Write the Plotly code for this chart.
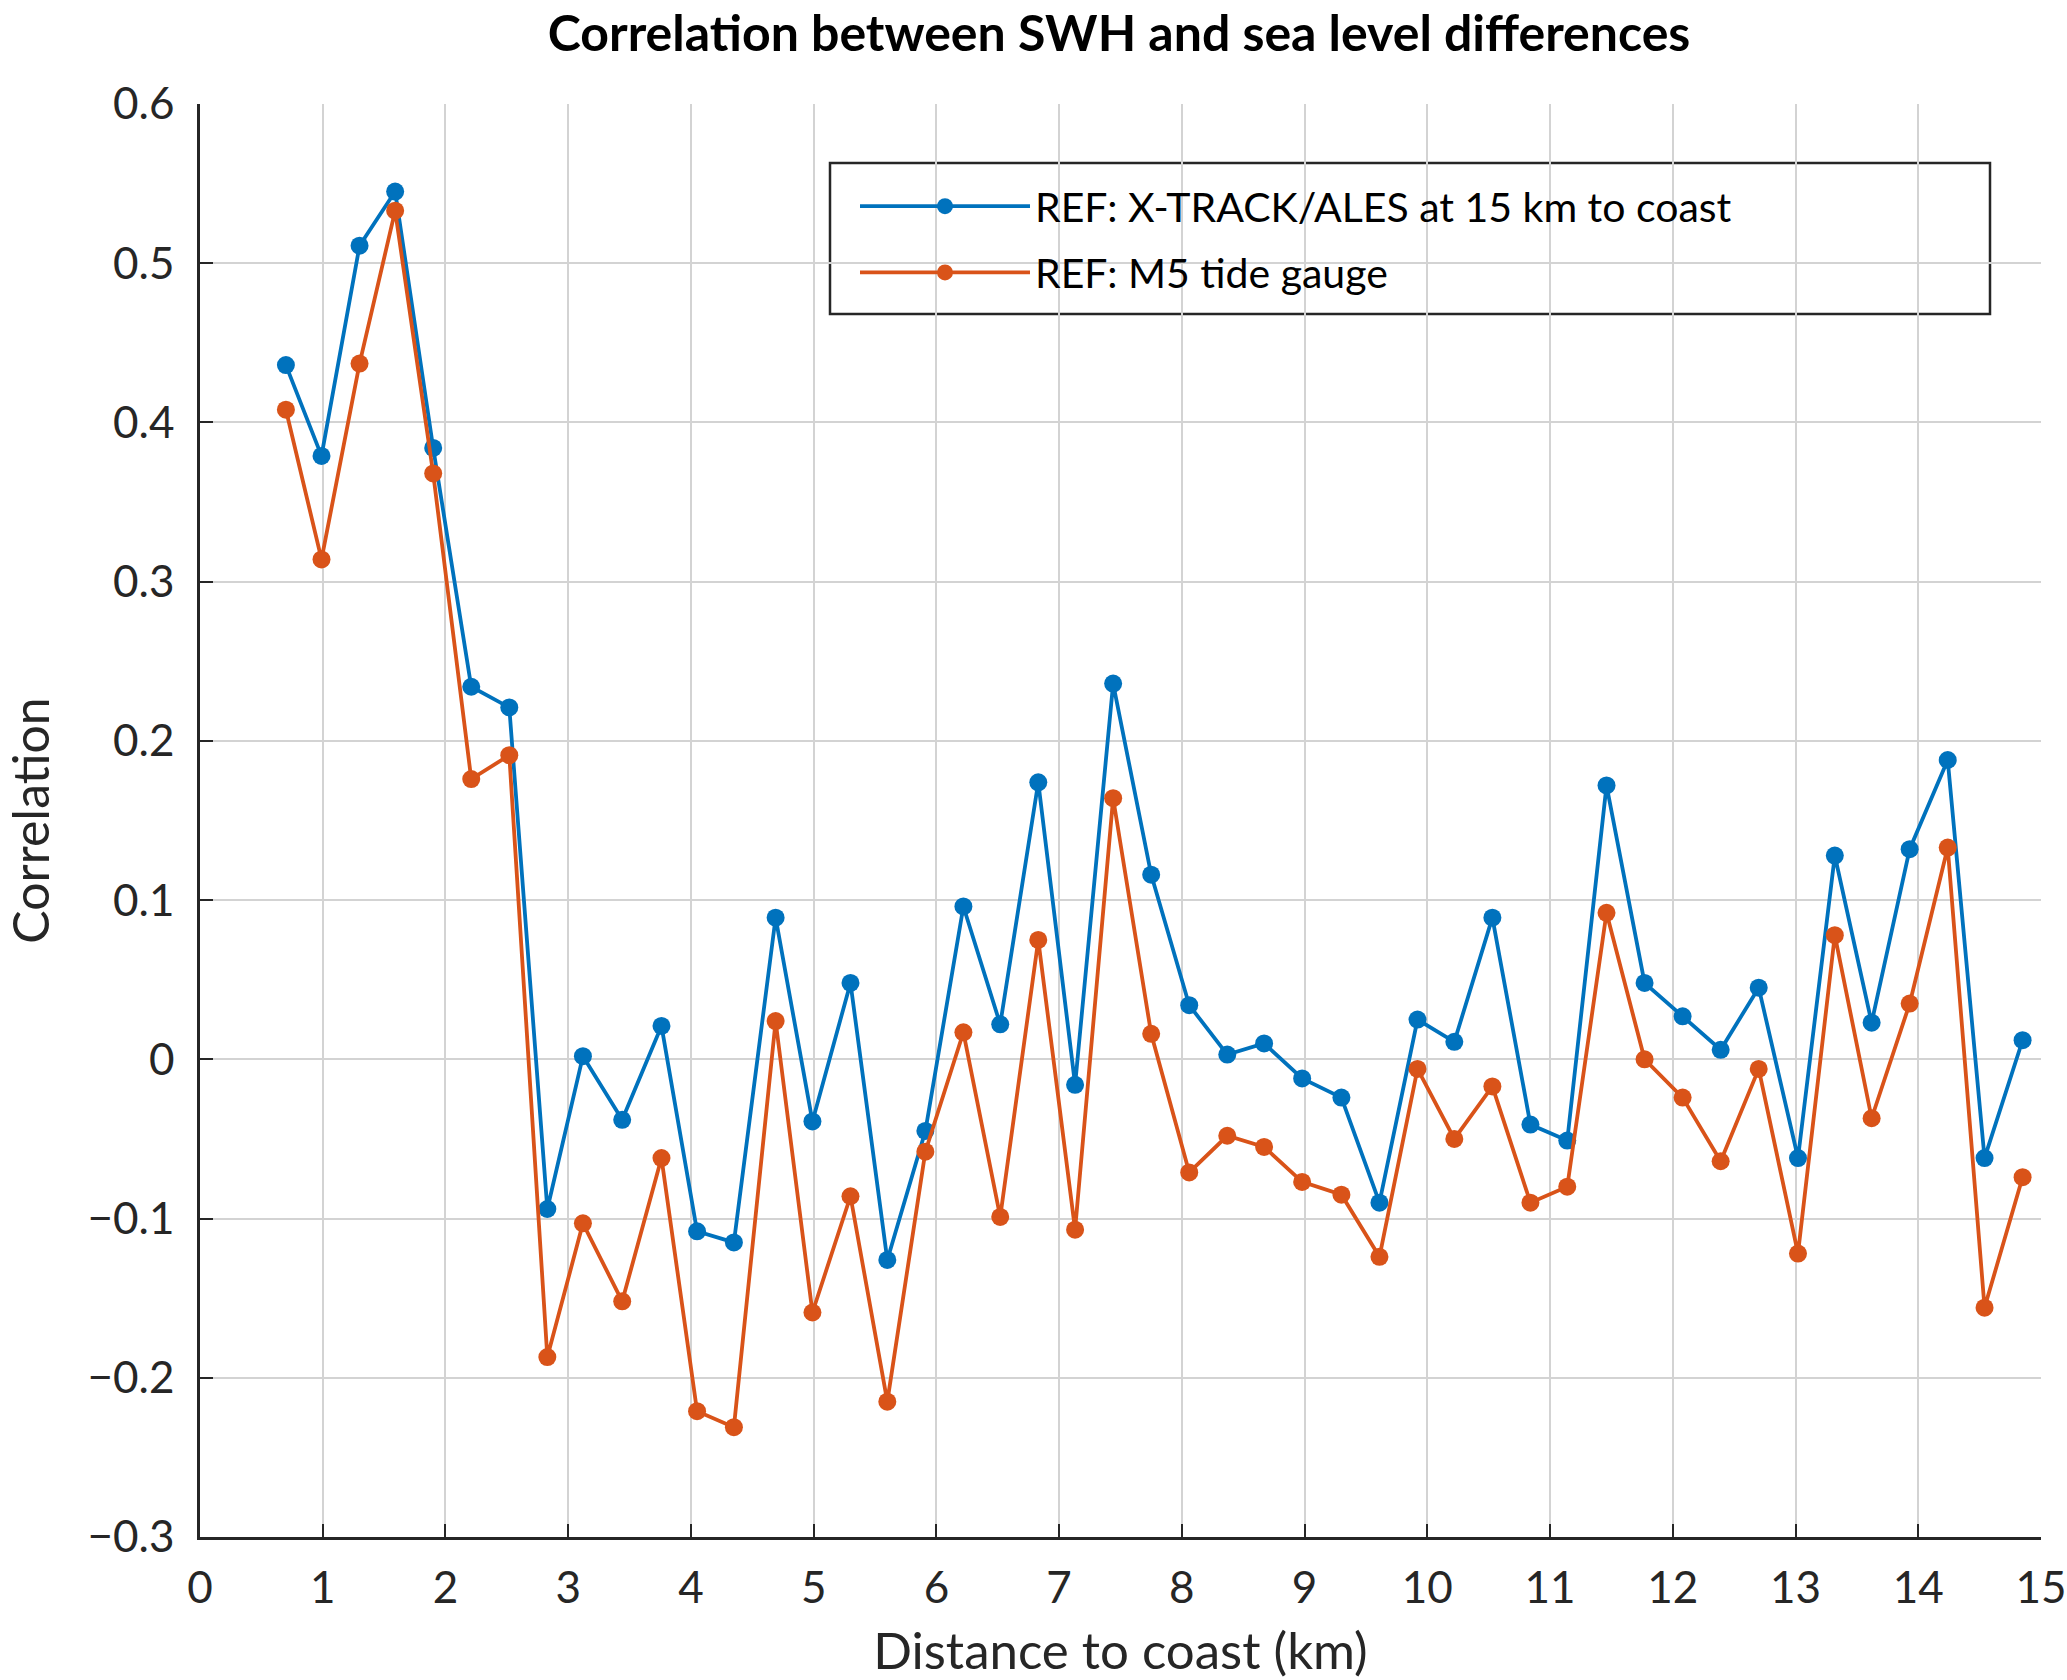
import plotly.graph_objects as go

distance_km = [0.70, 0.99, 1.30, 1.59, 1.90, 2.21, 2.52, 2.83, 3.12, 3.44, 3.76, 4.05, 4.35, 4.69,
               4.99, 5.30, 5.60, 5.91, 6.22, 6.52, 6.83, 7.13, 7.44, 7.75, 8.06, 8.37, 8.67, 8.98,
               9.30, 9.61, 9.92, 10.22, 10.53, 10.84, 11.14, 11.46, 11.77, 12.08, 12.39, 12.70,
               13.02, 13.32, 13.62, 13.93, 14.24, 14.54, 14.85]

corr_xtrack = [0.436, 0.379, 0.511, 0.545, 0.384, 0.234, 0.221, -0.094, 0.002, -0.038, 0.021,
               -0.108, -0.115, 0.089, -0.039, 0.048, -0.126, -0.045, 0.096, 0.022, 0.174, -0.016,
               0.236, 0.116, 0.034, 0.003, 0.010, -0.012, -0.024, -0.090, 0.025, 0.011, 0.089,
               -0.041, -0.051, 0.172, 0.048, 0.027, 0.006, 0.045, -0.062, 0.128, 0.023, 0.132,
               0.188, -0.062, 0.012]

corr_m5 = [0.408, 0.314, 0.437, 0.533, 0.368, 0.176, 0.191, -0.187, -0.103, -0.152, -0.062,
           -0.221, -0.231, 0.024, -0.159, -0.086, -0.215, -0.058, 0.017, -0.099, 0.075, -0.107,
           0.164, 0.016, -0.071, -0.048, -0.055, -0.077, -0.085, -0.124, -0.006, -0.050, -0.017,
           -0.090, -0.080, 0.092, 0.000, -0.024, -0.064, -0.006, -0.122, 0.078, -0.037, 0.035,
           0.133, -0.156, -0.074]

series_names = ["REF: X-TRACK/ALES at 15 km to coast", "REF: M5 tide gauge"]
series_colors = ["#0072BD", "#D95319"]

x_ticks = list(range(0, 16))
y_ticks = [-0.3, -0.2, -0.1, 0, 0.1, 0.2, 0.3, 0.4, 0.5, 0.6]

FONT = "Lato"
W, H = 2067, 1680
ML, MR, MT, MB = 200, 26, 104, 143
PW, PH = W - ML - MR, H - MT - MB

fig = go.Figure()
for name, ys, col in zip(series_names, [corr_xtrack, corr_m5], series_colors):
    fig.add_trace(go.Scatter(
        x=distance_km, y=ys, name=name, mode="lines+markers",
        line=dict(color=col, width=3.8),
        marker=dict(color=col, size=18),
        legendgroup=name,
    ))

axis_common = dict(
    showgrid=True, gridcolor="#d3d3d3", gridwidth=2,
    showline=True, linecolor="#262626", linewidth=2.5,
    ticks="inside", ticklen=13, tickwidth=2, tickcolor="#262626",
    tickfont=dict(family=FONT, size=44, color="#262626"),
    zeroline=False, mirror=False, ticklabeloverflow="allow", automargin=False,
)

fig.update_xaxes(range=[0, 15], tickvals=x_ticks, ticklabelstandoff=10, **axis_common,
                 title=dict(text="Distance to coast (km)",
                            font=dict(family=FONT, size=51, color="#262626"), standoff=35))
fig.update_yaxes(range=[-0.3, 0.6], tickvals=y_ticks, ticklabelstandoff=14, **axis_common,
                 title=dict(text="Correlation",
                            font=dict(family=FONT, size=50, color="#262626"), standoff=46))

# legend frame (pixel positions converted to paper coordinates)
lx0 = (830 - ML) / PW
lx1 = (1990 - ML) / PW
ly1 = (H - MB - 163) / PH
ly0 = (H - MB - 314) / PH
fig.add_shape(type="rect", xref="paper", yref="paper", x0=lx0, x1=lx1, y0=ly0, y1=ly1,
              line=dict(color="#262626", width=2.5), fillcolor="white", layer="below")

fig.update_layout(
    width=W, height=H,
    margin=dict(l=ML, r=MR, t=MT, b=MB, autoexpand=False),
    paper_bgcolor="white", plot_bgcolor="rgba(0,0,0,0)",
    title=dict(text="<b>Correlation between SWH and sea level differences</b>",
               x=0.5414, xref="container", xanchor="center",
               y=1 - 33 / H, yref="container", yanchor="middle",
               font=dict(family=FONT, size=50, color="black")),
    legend=dict(x=(855 - ML) / PW, y=(H - MB - 173) / PH, xanchor="left", yanchor="top",
                bgcolor="rgba(0,0,0,0)", borderwidth=0,
                font=dict(family=FONT, size=41, color="black"),
                itemwidth=170, tracegroupgap=10),
    showlegend=True,
)

fig.write_html("out.html", config={"displayModeBar": False},
               post_script="document.body.style.margin='0';document.body.style.overflow='hidden';")
